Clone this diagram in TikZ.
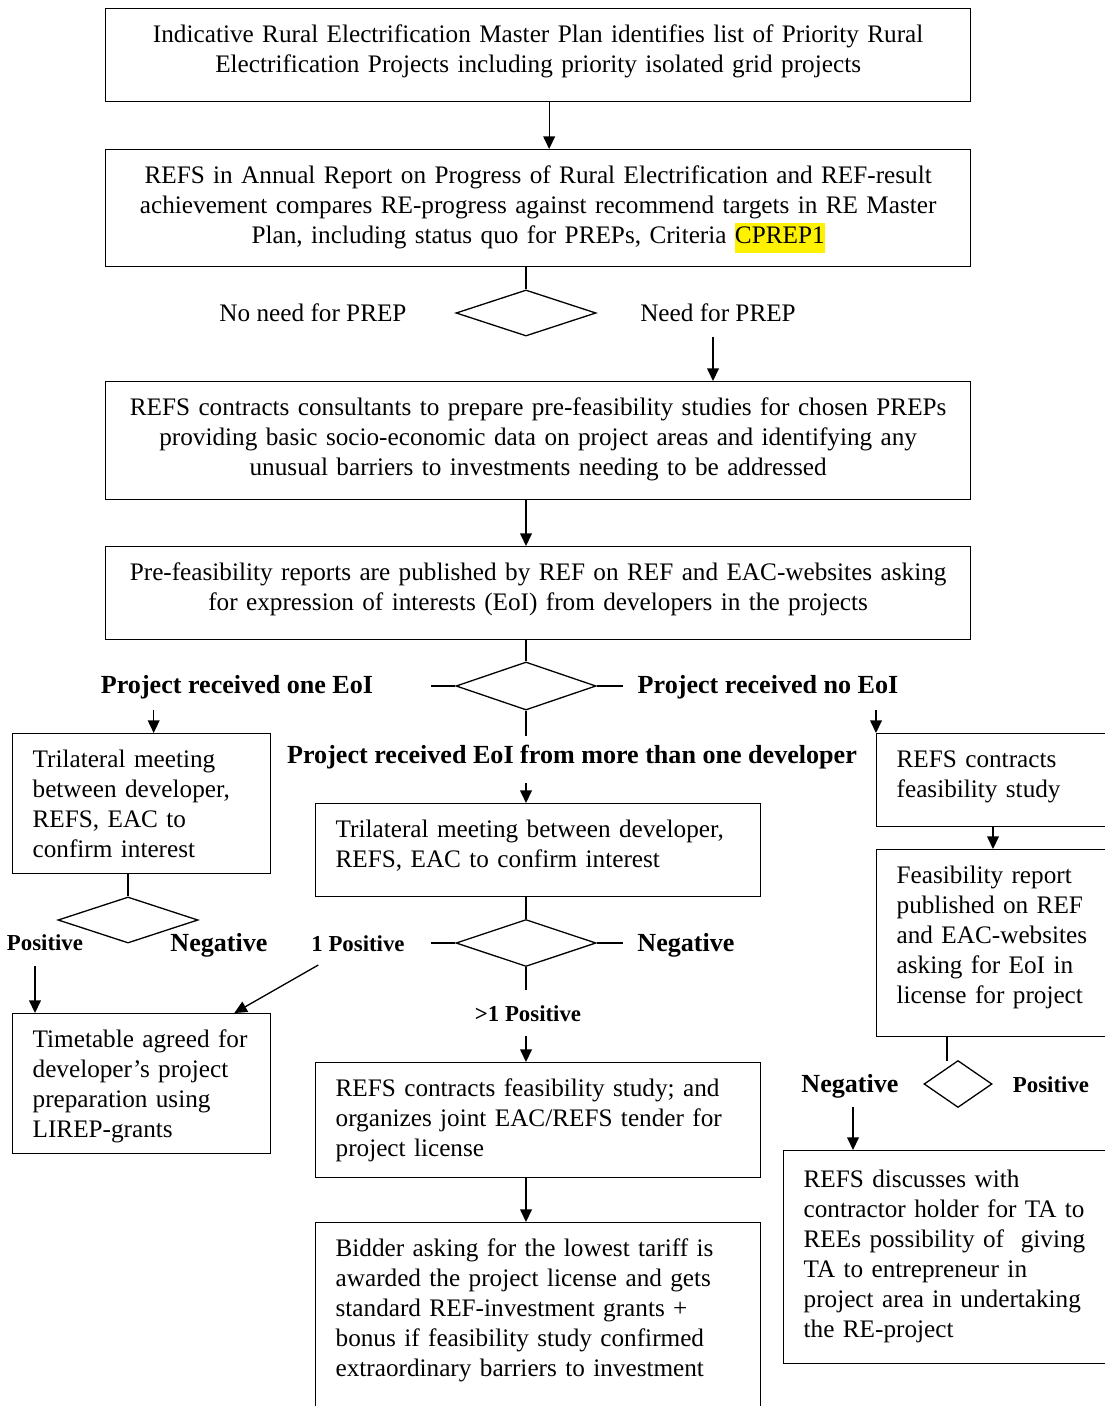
\documentclass[tikz,border=0pt]{standalone}
\usepackage{fontspec}
\setmainfont{Liberation Serif}
\usetikzlibrary{positioning, calc, arrows.meta, shapes.geometric}
\newcommand\hilite[1]{{\setlength{\fboxsep}{0pt}\colorbox{yellow}{\strut #1}}}
\tikzset{
  flow/.style={-{Triangle[length=5.8pt, width=5.4pt]}, line width=0.6pt},
  link/.style={-, line width=0.6pt},
  block/.style={draw, line width=0.6pt, anchor=north west, align=center, text width=389.9pt, inner xsep=4pt, inner ysep=0pt, text height=15.64pt},
  note/.style={draw, line width=0.6pt, anchor=north west, align=left, inner xsep=9.2pt, inner ysep=0pt, text height=15.64pt},
  choice/.style={diamond, draw, line width=0.6pt, inner sep=0, minimum width=64.4pt, minimum height=21.2pt},
  tag/.style={inner sep=0},
  btag/.style={inner sep=0, font=\fontsize{12}{13.8}\selectfont\bfseries},
  stag/.style={inner sep=0, font=\fontsize{10.5}{12}\selectfont\bfseries},
  every node/.style={font=\fontsize{11.6}{13.8}\selectfont}
}
\begin{document}
\begin{tikzpicture}[x=0.46pt, y=-0.46pt]
  \useasboundingbox (0,0) rectangle (1104,1406);
  \fill[white] (0,0) rectangle (1104,1406);
  \node[block, text depth=27.14pt] (b1) at (105,8) {Indicative Rural Electrification Master Plan identifies list of Priority Rural\\ Electrification Projects including priority isolated grid projects};
  \node[block, text depth=38.18pt] (b2) at (105,149) {REFS in Annual Report on Progress of Rural Electrification and REF-result\\ achievement compares RE-progress against recommend targets in RE Master\\ Plan, including status quo for PREPs, Criteria \hilite{CPREP1}};
  \draw[flow] ($(b1.south)+(11,0)$) -- ($(b2.north)+(11,0)$);
  \node[choice] (d1) at (526,313) {};
  \draw[link] (b2.south -| d1.north) -- (d1.north);
  \node[tag] (noneed) at (313,313) {No need for PREP};
  \node[tag] (need) at (718,313) {Need for PREP};
  \node[block, text depth=38.64pt] (b3) at (105,381) {REFS contracts consultants to prepare pre-feasibility studies for chosen PREPs\\ providing basic socio-economic data on project areas and identifying any\\ unusual barriers to investments needing to be addressed};
  \draw[flow] ($(d1.south -| need)+(-5,0)$) -- ($(b3.north -| need)+(-5,0)$);
  \node[block, text depth=27.14pt] (b4) at (105,546) {Pre-feasibility reports are published by REF on REF and EAC-websites asking\\ for expression of interests (EoI) from developers in the projects};
  \draw[flow] (b3.south -| d1) -- (b4.north -| d1);
  \node[choice, minimum height=22.1pt] (d2) at (526,686) {};
  \draw[link] (b4.south -| d2) -- (d2.north);
  \draw[link] (d2.west) -- ++(-24,0);
  \draw[link] (d2.east) -- ++(26,0);
  \draw[link] (d2.south) -- ++(0,25);
  \node[btag] (oneeoi) at (237,687) {Project received one EoI};
  \node[btag] (noeoi) at (768,687) {Project received no EoI};
  \node[btag] (moreeoi) at (572,757) {Project received EoI from more than one developer};
  \node[note, text width=100.3pt, text depth=48.76pt] (tl) at (12,733) {Trilateral meeting\\ between developer,\\ REFS, EAC to\\ confirm interest};
  \draw[flow] ($(tl.north)+(12,-23)$) -- ($(tl.north)+(12,0)$);
  \node[note, text width=186.3pt, text depth=27.14pt] (tc) at (315,803) {Trilateral meeting between developer,\\ REFS, EAC to confirm interest};
  \draw[flow] ($(d2 |- tc.north)+(0,-20)$) -- (d2 |- tc.north);
  \node[note, text width=101.2pt, text depth=27.14pt] (tr) at (876,733) {REFS contracts\\ feasibility study};
  \draw[flow] ($(tr.north west)+(0,-23)$) -- (tr.north west);
  \node[note, text width=101.2pt, text depth=70.38pt] (r2) at (876,849) {Feasibility report\\ published on REF\\ and EAC-websites\\ asking for EoI in\\ license for project};
  \draw[flow] ($(tr.south west)+(117,0)$) -- ($(r2.north west)+(117,0)$);
  \node[choice] (dl) at (128,920) {};
  \draw[link] (tl.south -| dl) -- (dl.north);
  \node[stag] (posl) at (45,943) {Positive};
  \node[btag] (negl) at (219,945) {Negative};
  \node[note, text width=100.3pt, text depth=48.76pt] (bl) at (12,1013) {Timetable agreed for\\ developer’s project\\ preparation using\\ LIREP-grants};
  \draw[flow] ($(bl.north west)+(23,-47)$) -- ($(bl.north west)+(23,0)$);
  \node[choice, minimum height=21.6pt] (dc) at (526,943) {};
  \draw[link] (tc.south -| dc) -- (dc.north);
  \draw[link] (dc.west) -- ++(-24,0);
  \draw[link] (dc.east) -- ++(26,0);
  \draw[link] (dc.south) -- ++(0,23);
  \node[stag] (onepos) at (358,944) {1 Positive};
  \node[btag] (negc) at (686,945) {Negative};
  \node[stag] (morepos) at (528,1014) {>1 Positive};
  \draw[flow] ($(bl.north east)+(47,-48)$) -- ($(bl.north east)+(-37,0)$);
  \node[note, text width=186.3pt, text depth=37.26pt] (bc1) at (315,1062) {REFS contracts feasibility study; and\\ organizes joint EAC/REFS tender for\\ project license};
  \draw[flow] ($(dc |- bc1.north)+(0,-26)$) -- (dc |- bc1.north);
  \node[note, text width=186.3pt, text depth=80.04pt] (bc2) at (315,1222) {Bidder asking for the lowest tariff is\\ awarded the project license and gets\\ standard REF-investment grants +\\ bonus if feasibility study confirmed\\ extraordinary barriers to investment};
  \draw[flow] (bc1.south -| dc) -- (bc2.north -| dc);
  \node[choice, minimum width=31.3pt, minimum height=21.6pt] (dr) at (958,1084) {};
  \draw[link] ($(r2.south west)+(71,0)$) -- ++(0,24);
  \node[btag] (negr) at (850,1086) {Negative};
  \node[stag] (posr) at (1051,1085) {Positive};
  \node[note, text width=138pt, text height=17.02pt, text depth=80.96pt] (br) at (783,1150) {REFS discusses with\\ contractor holder for TA to\\ REEs possibility of \ giving\\ TA to entrepreneur in\\ project area in undertaking\\ the RE-project};
  \draw[flow] ($(br.north west)+(70,-43)$) -- ($(br.north west)+(70,0)$);
\end{tikzpicture}
\end{document}
